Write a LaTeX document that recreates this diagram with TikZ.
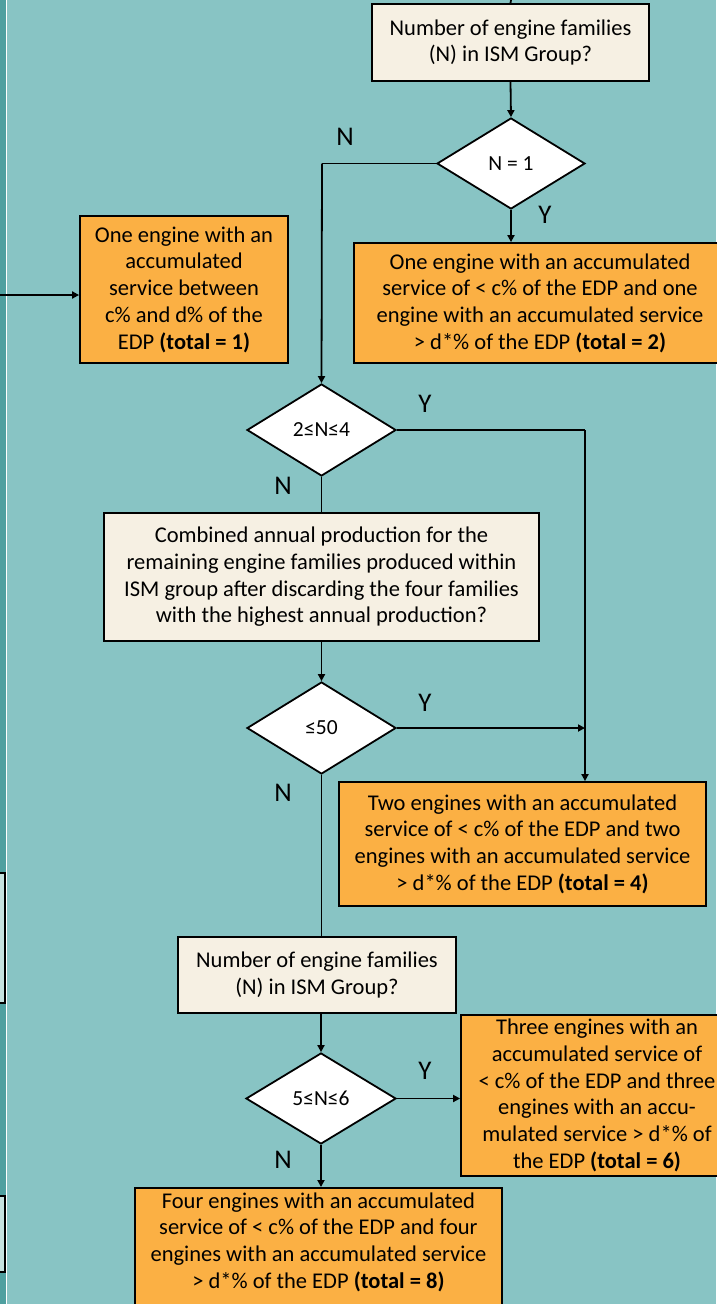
\documentclass[tikz,border=0pt]{standalone}
\usepackage{fontspec}
\setmainfont{Carlito}
\usetikzlibrary{shapes.geometric,arrows.meta}
\definecolor{bgteal}{HTML}{88C4C4}
\definecolor{darkteal}{HTML}{4FA0A0}
\definecolor{lightbox}{HTML}{C6E2DF}
\definecolor{orangebox}{HTML}{FBB044}
\definecolor{creambox}{HTML}{F6F0E3}
\tikzset{
  px/.style={x=1pt,y=-1pt},
  qbox/.style={draw=black,line width=1.8pt,fill=creambox,align=center,font=\fontsize{22.5}{26.7}\selectfont,inner sep=0pt},
  obox/.style={draw=black,line width=1.8pt,fill=orangebox,align=center,font=\fontsize{22.5}{26.7}\selectfont,inner sep=0pt},
  dec/.style={draw=black,line width=1.8pt,fill=white,font=\fontsize{21.5}{24}\selectfont},
  conn/.style={line width=1.8pt,draw=black},
  arr/.style={conn,-{Triangle[length=7pt,width=7pt]}},
  yn/.style={font=\fontsize{27}{30}\selectfont},
}
\begin{document}
\begin{tikzpicture}[px]
\useasboundingbox (0,0) rectangle (716,1304);
\fill[bgteal] (0,0) rectangle (716,1304);
% left strip
\fill[darkteal] (0,0) rectangle (6,1304);
\draw[white,line width=1.2pt] (6.5,0) -- (6.5,1304);
\draw[line width=1.8pt,fill=lightbox] (-10,873) rectangle (5,1003);
\draw[line width=1.8pt,fill=lightbox] (-10,1196) rectangle (5,1272);

% nodes
\node[qbox,minimum width=277pt,minimum height=77pt] (q1) at (510.5,42.5) {Number of engine families\\(N) in ISM Group?};
\node[dec,diamond,minimum width=148pt,minimum height=91pt,inner sep=0pt,aspect=1.63] (d1) at (511,163.5) {N = 1};
\node[obox,minimum width=208pt,minimum height=147pt] (r1) at (184,289.5) {One engine with an\\accumulated\\service between\\c\% and d\% of the\\EDP \textbf{(total = 1)}};
\node[obox,minimum width=372pt,minimum height=120pt] (r2) at (540,303) {One engine with an accumulated\\service of < c\% of the EDP and one\\engine with an accumulated service\\> d*\% of the EDP \textbf{(total = 2)}};
\node[dec,diamond,minimum width=149pt,minimum height=92pt,inner sep=0pt,aspect=1.62] (d2) at (321.5,430) {2≤N≤4};
\node[qbox,minimum width=435pt,minimum height=128pt] (q2) at (321.5,577) {Combined annual production for the\\remaining engine families produced within\\ISM group after discarding the four families\\with the highest annual production?};
\node[dec,diamond,minimum width=149pt,minimum height=92pt,inner sep=0pt,aspect=1.62] (d3) at (321.5,728) {≤50};
\node[obox,minimum width=367pt,minimum height=124pt] (r3) at (522.5,844) {Two engines with an accumulated\\service of < c\% of the EDP and two\\engines with an accumulated service\\> d*\% of the EDP \textbf{(total = 4)}};
\node[qbox,minimum width=278pt,minimum height=76pt] (q3) at (317,975) {Number of engine families\\(N) in ISM Group?};
\node[dec,diamond,minimum width=150pt,minimum height=91pt,inner sep=0pt,aspect=1.65] (d4) at (321,1098.5) {5≤N≤6};
\node[obox,minimum width=272pt,minimum height=161pt] (r4) at (597,1095.5) {Three engines with an\\accumulated service of\\< c\% of the EDP and three\\engines with an accu-\\mulated service > d*\% of\\the EDP \textbf{(total = 6)}};
\node[obox,minimum width=367pt,minimum height=134pt,anchor=north west] (r5) at (134,1187) {};
\node[align=center,font=\fontsize{22.5}{26.7}\selectfont,anchor=north] (r5t) at ([yshift=-2pt]r5.north) {Four engines with an accumulated\\service of < c\% of the EDP and four\\engines with an accumulated service\\> d*\% of the EDP \textbf{(total = 8)}};

% helper coordinates
\coordinate (top) at (511,0);
\coordinate (lft) at (0,295);
\coordinate (k1) at (322,163.5);
\coordinate (k2) at (585,430);
\coordinate (k3) at (585,728);

% connectors
\draw[conn] (top) -- (q1.north);
\draw[arr] (q1.south) -- (d1.north);
\draw[arr] (d1.south) -- (r2.north -| d1.south);
\draw[conn] (d1.west) -- (k1);
\draw[arr] (k1) -- (d2.north);
\draw[arr] (lft) -- (lft -| r1.west);
\draw[conn] (d2.east) -- (k2);
\draw[arr] (k2) -- (k2 |- r3.north);
\draw[conn] (d2.south) -- (d2.south |- q2.north);
\draw[arr] (q2.south) -- (d3.north);
\draw[arr] (d3.east) -- (k3);
\draw[conn] (d3.south) -- (d3.south |- q3.north);
\draw[arr] (d4.north |- q3.south) -- (d4.north);
\draw[arr] (d4.east) -- (d4.east -| r4.west);
\draw[arr] (d4.south) -- (d4.south |- r5.north);

% labels
\node[yn] (l1) at (345,137) {N};
\node[yn] (l2) at (545,215) {Y};
\node[yn] (l3) at (425,404) {Y};
\node[yn] (l4) at (283,486) {N};
\node[yn] (l5) at (425,703) {Y};
\node[yn] (l6) at (283,793) {N};
\node[yn] (l7) at (425,1071) {Y};
\node[yn] (l8) at (283,1160) {N};
\end{tikzpicture}
\end{document}
